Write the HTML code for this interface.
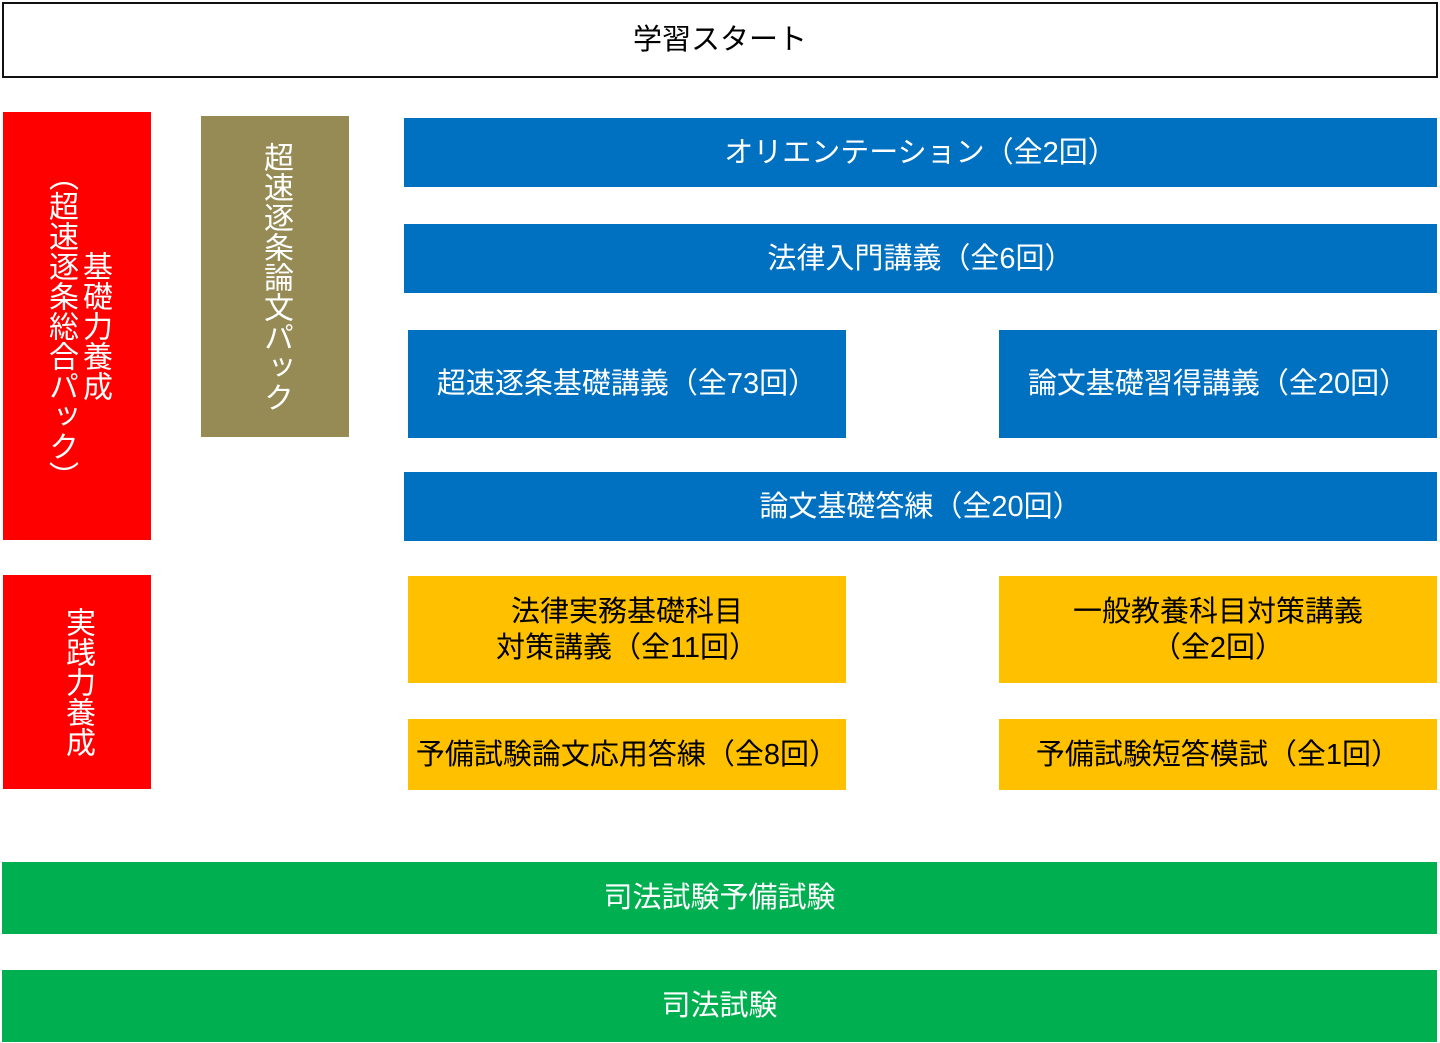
<!DOCTYPE html>
<html><head><meta charset="utf-8"><style>
body{margin:0;width:1440px;height:1043px;background:#fff;position:relative;overflow:hidden;font-family:"Liberation Sans","Noto Sans CJK JP",sans-serif;}
.b{position:absolute;display:flex;align-items:center;justify-content:center;text-align:center;color:#fff;font-size:29px;line-height:36px;box-sizing:border-box;}
.bl{background:#0070C0}.ye{background:#FFC000;color:#000}.gr{background:#00B050}.rd{background:#FF0000}.ol{background:#968B54}
.v{writing-mode:vertical-rl;font-size:30px;line-height:34px;}
</style></head><body>
<div class="b" style="left:2px;top:2px;width:1436px;height:76px;border:2px solid #111;color:#000;">学習スタート</div>
<div class="b rd" style="left:3px;top:112px;width:148px;height:428px;"><div class="v" style="height:auto;"><span>基礎力養成</span><br><span>（超速逐条総合パック）</span></div></div>
<div class="b ol" style="left:201px;top:116px;width:148px;height:321px;"><div class="v">超速逐条論文パック</div></div>
<div class="b rd" style="left:3px;top:575px;width:148px;height:214px;"><div class="v">実践力養成</div></div>
<div class="b bl" style="left:404px;top:118px;width:1033px;height:69px;">オリエンテーション（全2回）</div>
<div class="b bl" style="left:404px;top:224px;width:1033px;height:69px;">法律入門講義（全6回）</div>
<div class="b bl" style="left:408px;top:330px;width:438px;height:108px;">超速逐条基礎講義（全73回）</div>
<div class="b bl" style="left:999px;top:330px;width:438px;height:108px;">論文基礎習得講義（全20回）</div>
<div class="b bl" style="left:404px;top:472px;width:1033px;height:69px;">論文基礎答練（全20回）</div>
<div class="b ye" style="left:408px;top:576px;width:438px;height:107px;">法律実務基礎科目<br>対策講義（全11回）</div>
<div class="b ye" style="left:999px;top:576px;width:438px;height:107px;">一般教養科目対策講義<br>（全2回）</div>
<div class="b ye" style="left:408px;top:719px;width:438px;height:71px;">予備試験論文応用答練（全8回）</div>
<div class="b ye" style="left:999px;top:719px;width:438px;height:71px;">予備試験短答模試（全1回）</div>
<div class="b gr" style="left:2px;top:862px;width:1435px;height:72px;">司法試験予備試験</div>
<div class="b gr" style="left:2px;top:970px;width:1435px;height:72px;">司法試験</div>
</body></html>
